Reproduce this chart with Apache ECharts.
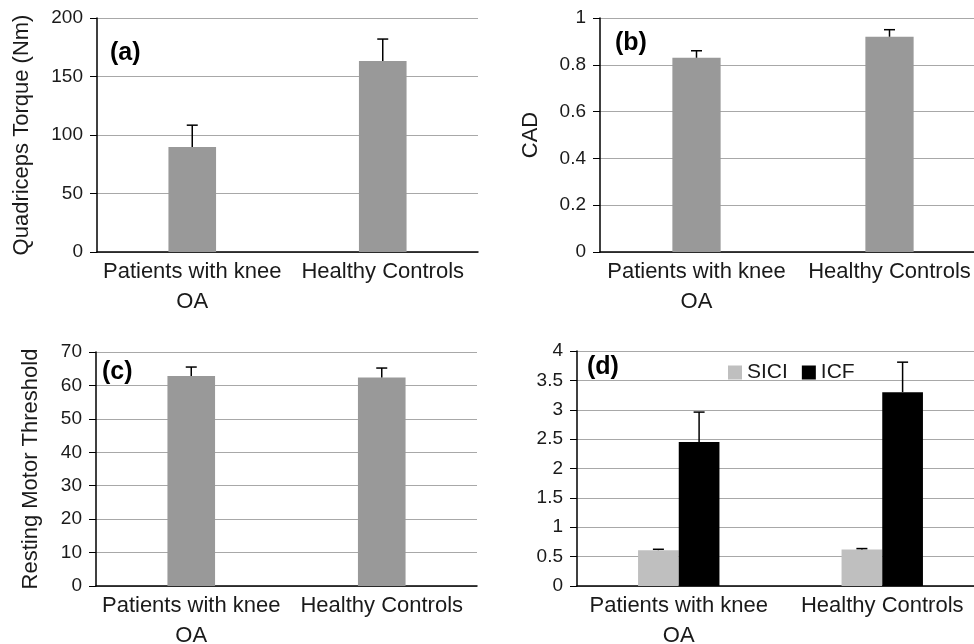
<!DOCTYPE html>
<html>
<head>
<meta charset="utf-8">
<title>Knee OA – quadriceps, CAD, RMT, SICI/ICF</title>
<script src="https://cdn.jsdelivr.net/npm/echarts@6/dist/echarts.min.js"></script>
<style>
  html, body { margin: 0; padding: 0; background: #fff; }
  #chart { width: 974px; height: 644px; }
</style>
</head>
<body>
<div id="chart"></div>
<script>
// data (mean + SD bar)
var categories = ['Patients with knee\nOA', 'Healthy Controls']

var torqueMean = [89.7, 163.2]
var torqueSd = [18.7, 18.8]

var cadMean = [0.83, 0.92]
var cadSd = [0.03, 0.03]

var rmtMean = [62.8, 62.4]
var rmtSd = [2.7, 2.8]

var siciMean = [0.61, 0.62]
var siciSd = [0.015, 0.017]
var icfMean = [2.45, 3.30]
var icfSd = [0.51, 0.51]

var panelLabels = ['(a)', '(b)', '(c)', '(d)']

var FONT = 'Liberation Sans, Arial, Helvetica, sans-serif'
var TXT = '#1a1a1a'

var chart = echarts.init(document.getElementById('chart'))

function xAxis(gridIndex) {
  return {
    type: 'category',
    gridIndex: gridIndex,
    data: categories,
    axisLine: { lineStyle: { color: '#000', width: 1.5 } },
    axisTick: { show: false },
    axisLabel: {
      interval: 0,
      color: TXT,
      fontFamily: FONT,
      fontSize: 22,
      lineHeight: 30,
      margin: 5
    }
  }
}

function yAxis(gridIndex, max, interval, name, nameGap) {
  return {
    type: 'value',
    gridIndex: gridIndex,
    min: 0,
    max: max,
    interval: interval,
    name: name,
    nameLocation: 'middle',
    nameGap: nameGap,
    nameTextStyle: { color: TXT, fontFamily: FONT, fontSize: 22 },
    axisLine: { show: true, lineStyle: { color: '#000', width: 1.5 } },
    axisTick: { show: true, length: 7, lineStyle: { color: '#000' } },
    axisLabel: { color: TXT, fontFamily: FONT, fontSize: 19, margin: 14 },
    splitLine: { lineStyle: { color: '#a8a8a8', width: 1.2 } }
  }
}

// error bar (upper whisker + cap) drawn through the axis scales
function errorSeries(idx, mean, sd, offsetFrac) {
  return {
    type: 'custom',
    xAxisIndex: idx,
    yAxisIndex: idx,
    z: 5,
    silent: true,
    data: mean.map(function (m, i) { return [i, m, m + sd[i]] }),
    renderItem: function (params, api) {
      var base = api.coord([api.value(0), api.value(1)])
      var top = api.coord([api.value(0), api.value(2)])
      var band = api.size([1, 0])[0]
      var x = base[0] + band * (offsetFrac || 0)
      var cap = 5.5
      var style = { stroke: '#000', lineWidth: 1.5 }
      return {
        type: 'group',
        children: [
          { type: 'line', shape: { x1: x, y1: base[1], x2: x, y2: top[1] }, style: style },
          { type: 'line', shape: { x1: x - cap, y1: top[1], x2: x + cap, y2: top[1] }, style: style }
        ]
      }
    }
  }
}

function barSeries(idx, name, values, color, width) {
  return {
    type: 'bar',
    name: name,
    xAxisIndex: idx,
    yAxisIndex: idx,
    data: values,
    barWidth: width,
    barGap: '0%',
    itemStyle: { color: color },
    emphasis: { disabled: true }
  }
}

function grid(left, top, width, height) {
  return { left: left, top: top, width: width, height: height, outerBoundsMode: 'none', containLabel: false }
}

var labelPos = [[110, 41], [615, 31], [102, 360], [587, 355]]

chart.setOption({
  animation: false,
  textStyle: { fontFamily: FONT },
  grid: [
    grid(97, 18, 381, 234),
    grid(600, 18, 386, 234),
    grid(96, 352, 381, 234),
    grid(577, 351, 407, 235)
  ],
  legend: {
    data: ['SICI', 'ICF'],
    icon: 'rect',
    left: 723,
    top: 357,
    itemWidth: 14,
    itemHeight: 14,
    itemGap: 14,
    textStyle: { color: TXT, fontFamily: FONT, fontSize: 21 },
    selectedMode: false
  },
  xAxis: [xAxis(0), xAxis(1), xAxis(2), xAxis(3)],
  yAxis: [
    yAxis(0, 200, 50, 'Quadriceps Torque (Nm)', 64),
    yAxis(1, 1, 0.2, 'CAD', 58),
    yAxis(2, 70, 10, 'Resting Motor Threshold', 54),
    yAxis(3, 4, 0.5, '', 40)
  ],
  graphic: panelLabels.map(function (t, i) {
    return {
      type: 'text',
      left: labelPos[i][0],
      top: labelPos[i][1],
      z: 10,
      style: { text: t, fill: '#000', font: 'bold 25px ' + FONT }
    }
  }),
  series: [
    barSeries(0, 'Torque', torqueMean, '#999999', '25%'),
    errorSeries(0, torqueMean, torqueSd, 0),
    barSeries(1, 'CAD', cadMean, '#999999', '25%'),
    errorSeries(1, cadMean, cadSd, 0),
    barSeries(2, 'RMT', rmtMean, '#999999', '25%'),
    errorSeries(2, rmtMean, rmtSd, 0),
    barSeries(3, 'SICI', siciMean, '#bfbfbf', '20%'),
    barSeries(3, 'ICF', icfMean, '#000000', '20%'),
    errorSeries(3, siciMean, siciSd, -0.1),
    errorSeries(3, icfMean, icfSd, 0.1)
  ]
})
</script>
</body>
</html>
